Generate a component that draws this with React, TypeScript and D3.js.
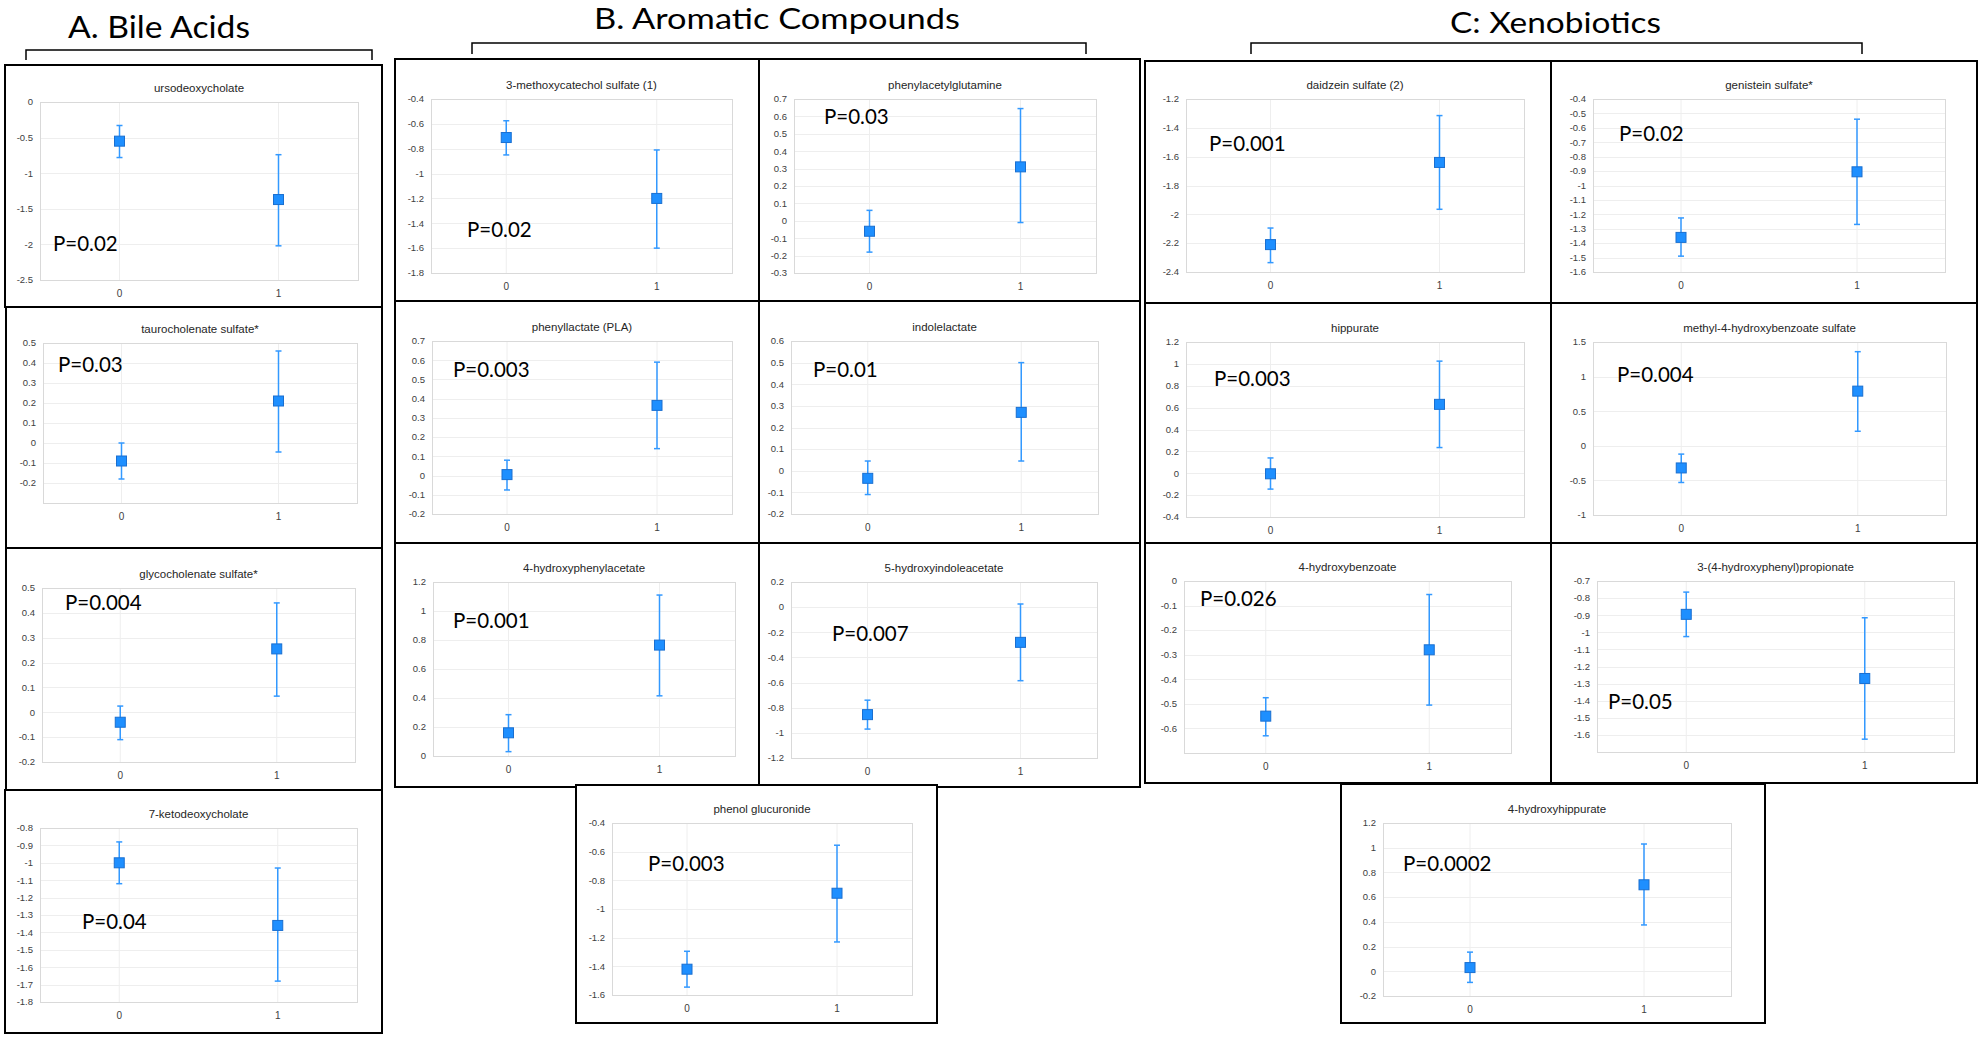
import React, { useEffect } from 'react';
import * as d3 from 'd3';

// ---------- DATA ----------
const groups = ['0', '1'];
const headings = ['A. Bile Acids', 'B. Aromatic Compounds', 'C: Xenobiotics'];

const titles = [
  'ursodeoxycholate',
  'taurocholenate sulfate*',
  'glycocholenate sulfate*',
  '7-ketodeoxycholate',
  '3-methoxycatechol sulfate (1)',
  'phenylacetylglutamine',
  'phenyllactate (PLA)',
  'indolelactate',
  '4-hydroxyphenylacetate',
  '5-hydroxyindoleacetate',
  'phenol glucuronide',
  'daidzein sulfate (2)',
  'genistein sulfate*',
  'hippurate',
  'methyl-4-hydroxybenzoate sulfate',
  '4-hydroxybenzoate',
  '3-(4-hydroxyphenyl)propionate',
  '4-hydroxyhippurate',
];

// group 0
const mean0 = [-0.55, -0.09, -0.04, -1.0, -0.71, -0.06, 0.005, -0.035, 0.16, -0.855, -1.42, -2.21, -1.36, -0.005, -0.32, -0.55, -0.895, 0.03];
const low0 = [-0.78, -0.18, -0.11, -1.12, -0.85, -0.18, -0.075, -0.11, 0.03, -0.97, -1.545, -2.335, -1.49, -0.145, -0.53, -0.63, -1.025, -0.09];
const high0 = [-0.33, 0.0, 0.025, -0.88, -0.575, 0.06, 0.08, 0.045, 0.285, -0.74, -1.295, -2.095, -1.225, 0.14, -0.12, -0.475, -0.765, 0.155];
// group 1
const mean1 = [-1.37, 0.21, 0.255, -1.36, -1.2, 0.31, 0.365, 0.27, 0.765, -0.28, -0.89, -1.64, -0.905, 0.63, 0.79, -0.28, -1.27, 0.7];
const low1 = [-2.02, -0.045, 0.065, -1.68, -1.6, -0.01, 0.14, 0.045, 0.415, -0.585, -1.23, -1.965, -1.27, 0.235, 0.21, -0.505, -1.625, 0.375];
const high1 = [-0.74, 0.46, 0.44, -1.03, -0.81, 0.645, 0.59, 0.5, 1.11, 0.025, -0.555, -1.315, -0.54, 1.025, 1.36, -0.055, -0.915, 1.03];

const yMin = [-2.5, -0.3, -0.2, -1.8, -1.8, -0.3, -0.2, -0.2, 0, -1.2, -1.6, -2.4, -1.6, -0.4, -1, -0.7, -1.7, -0.2];
const yMax = [0, 0.5, 0.5, -0.8, -0.4, 0.7, 0.7, 0.6, 1.2, 0.2, -0.4, -1.2, -0.4, 1.2, 1.5, 0, -0.7, 1.2];

const yTicks = [
  [0, -0.5, -1, -1.5, -2, -2.5],
  [0.5, 0.4, 0.3, 0.2, 0.1, 0, -0.1, -0.2],
  [0.5, 0.4, 0.3, 0.2, 0.1, 0, -0.1, -0.2],
  [-0.8, -0.9, -1, -1.1, -1.2, -1.3, -1.4, -1.5, -1.6, -1.7, -1.8],
  [-0.4, -0.6, -0.8, -1, -1.2, -1.4, -1.6, -1.8],
  [0.7, 0.6, 0.5, 0.4, 0.3, 0.2, 0.1, 0, -0.1, -0.2, -0.3],
  [0.7, 0.6, 0.5, 0.4, 0.3, 0.2, 0.1, 0, -0.1, -0.2],
  [0.6, 0.5, 0.4, 0.3, 0.2, 0.1, 0, -0.1, -0.2],
  [1.2, 1, 0.8, 0.6, 0.4, 0.2, 0],
  [0.2, 0, -0.2, -0.4, -0.6, -0.8, -1, -1.2],
  [-0.4, -0.6, -0.8, -1, -1.2, -1.4, -1.6],
  [-1.2, -1.4, -1.6, -1.8, -2, -2.2, -2.4],
  [-0.4, -0.5, -0.6, -0.7, -0.8, -0.9, -1, -1.1, -1.2, -1.3, -1.4, -1.5, -1.6],
  [1.2, 1, 0.8, 0.6, 0.4, 0.2, 0, -0.2, -0.4],
  [1.5, 1, 0.5, 0, -0.5, -1],
  [0, -0.1, -0.2, -0.3, -0.4, -0.5, -0.6],
  [-0.7, -0.8, -0.9, -1, -1.1, -1.2, -1.3, -1.4, -1.5, -1.6],
  [1.2, 1, 0.8, 0.6, 0.4, 0.2, 0, -0.2],
];

const pLabels = ['P=0.02', 'P=0.03', 'P=0.004', 'P=0.04', 'P=0.02', 'P=0.03', 'P=0.003', 'P=0.01', 'P=0.001', 'P=0.007', 'P=0.003', 'P=0.001', 'P=0.02', 'P=0.003', 'P=0.004', 'P=0.026', 'P=0.05', 'P=0.0002'];

// ---------- LAYOUT (positions only) ----------
// frame: [x0, y0, x1, y1]; plot: [x0, y0, x1, y1]; pPos: [x, baseline]
const frames = [
  [5, 65, 382, 307], [6, 307, 382, 548], [6, 548, 382, 790], [5, 790, 382, 1033],
  [395, 59, 759, 301], [759, 59, 1140, 301],
  [395, 301, 759, 543], [759, 301, 1140, 543],
  [395, 543, 759, 787], [759, 543, 1140, 787],
  [576, 785, 937, 1023],
  [1145, 61, 1551, 303], [1551, 61, 1977, 303],
  [1145, 303, 1551, 543], [1551, 303, 1977, 543],
  [1145, 543, 1551, 783], [1551, 543, 1977, 783],
  [1341, 784, 1765, 1023],
];
const plots = [
  [40, 102, 358, 280], [43, 343, 357, 503], [42, 588, 355, 762], [40, 828, 357, 1002],
  [431, 99, 732, 273], [794, 99, 1096, 273],
  [432, 341, 732, 514], [791, 341, 1098, 514],
  [433, 582, 735, 756], [791, 582, 1097, 758],
  [612, 823, 912, 995],
  [1186, 99, 1524, 272], [1593, 99, 1945, 272],
  [1186, 342, 1524, 517], [1593, 342, 1946, 515],
  [1184, 581, 1511, 753], [1597, 581, 1954, 752],
  [1383, 823, 1731, 996],
];
const pPos = [
  [53, 251], [58, 372], [65, 610], [82, 929],
  [467, 237], [824, 124], [453, 377], [813, 377], [453, 628], [832, 641], [648, 871],
  [1209, 151], [1619, 141], [1214, 386], [1617, 382], [1200, 606], [1608, 709], [1403, 871],
];
const headingPos = [
  { x: 68, y: 38, w: 182, fs: 30 },
  { x: 594, y: 29, w: 366, fs: 28 },
  { x: 1450, y: 33, w: 211, fs: 29 },
];
const brackets = [
  [26, 50, 372, 60],
  [472, 43, 1086, 54],
  [1251, 43, 1862, 54],
];

const fmt = (v: number) => String(+v.toFixed(2));

function Panel({ i }: { i: number }) {
  const [px0, py0, px1, py1] = plots[i];
  const x = d3.scalePoint<string>().domain(groups).range([px0, px1]).padding(0.5);
  const y = d3.scaleLinear().domain([yMin[i], yMax[i]]).range([py1, py0]);
  const pts = [
    { g: groups[0], m: mean0[i], lo: low0[i], hi: high0[i] },
    { g: groups[1], m: mean1[i], lo: low1[i], hi: high1[i] },
  ];
  const cap = 3;
  const sq = 10;
  return (
    <g>
      {yTicks[i].map((t) => (
        <line key={'g' + t} x1={px0} x2={px1} y1={Math.round(y(t)) + 0.5} y2={Math.round(y(t)) + 0.5} stroke="#eeeeee" strokeWidth={1} />
      ))}
      {groups.map((g) => (
        <line key={'v' + g} x1={x(g)} x2={x(g)} y1={py0} y2={py1} stroke="#eeeeee" strokeWidth={1} />
      ))}
      <rect x={px0 + 0.5} y={py0 + 0.5} width={px1 - px0} height={py1 - py0} fill="none" stroke="#d9d9d9" strokeWidth={1} />
      {yTicks[i].map((t) => (
        <text key={'t' + t} x={px0 - 7} y={y(t)} dy="0.35em" textAnchor="end" fontSize={9.5} fill="#404040" fontFamily="'Liberation Sans', Arial, sans-serif">
          {fmt(t)}
        </text>
      ))}
      {groups.map((g) => (
        <text key={'x' + g} x={x(g)} y={py1 + 17} textAnchor="middle" fontSize={10} fill="#404040" fontFamily="'Liberation Sans', Arial, sans-serif">
          {g}
        </text>
      ))}
      <text x={(px0 + px1) / 2} y={py0 - 10} textAnchor="middle" fontSize={11.5} fill="#262626" fontFamily="'Liberation Sans', Arial, sans-serif">
        {titles[i]}
      </text>
      {pts.map((p) => {
        const cx = x(p.g) as number;
        return (
          <g key={'p' + p.g}>
            <line x1={cx} x2={cx} y1={y(p.lo)} y2={y(p.hi)} stroke="#3399ff" strokeWidth={1.5} />
            <line x1={cx - cap} x2={cx + cap} y1={y(p.lo)} y2={y(p.lo)} stroke="#3399ff" strokeWidth={1.5} />
            <line x1={cx - cap} x2={cx + cap} y1={y(p.hi)} y2={y(p.hi)} stroke="#3399ff" strokeWidth={1.5} />
            <rect x={cx - sq / 2} y={y(p.m) - sq / 2} width={sq} height={sq} fill="#1e8fff" stroke="#1a6fd0" strokeWidth={1} />
          </g>
        );
      })}
      <text x={pPos[i][0]} y={pPos[i][1]} fontSize={20.5} fill="#000" fontFamily="Lato, 'Open Sans', sans-serif">
        {pLabels[i]}
      </text>
    </g>
  );
}

export default function App() {
  useEffect(() => {
    document.body.style.margin = '0';
  }, []);
  return (
    <svg width={1980} height={1037} style={{ position: 'absolute', left: 0, top: 0, background: '#fff' }}>
      <rect x={0} y={0} width={1980} height={1037} fill="#fff" />
      {headings.map((h, k) => (
        <text key={h} x={headingPos[k].x} y={headingPos[k].y} fontSize={headingPos[k].fs} fill="#000" fontFamily="Lato, 'Open Sans', sans-serif" textLength={headingPos[k].w} lengthAdjust="spacingAndGlyphs">
          {h}
        </text>
      ))}
      {brackets.map((b, k) => (
        <path key={'b' + k} d={`M${b[0]},${b[3]}V${b[1]}H${b[2]}V${b[3]}`} fill="none" stroke="#000" strokeWidth={1.5} />
      ))}
      {frames.map((f, k) => (
        <rect key={'f' + k} x={f[0]} y={f[1]} width={f[2] - f[0]} height={f[3] - f[1]} fill="#fff" stroke="#000" strokeWidth={2} />
      ))}
      {titles.map((_, i) => (
        <Panel key={i} i={i} />
      ))}
    </svg>
  );
}
